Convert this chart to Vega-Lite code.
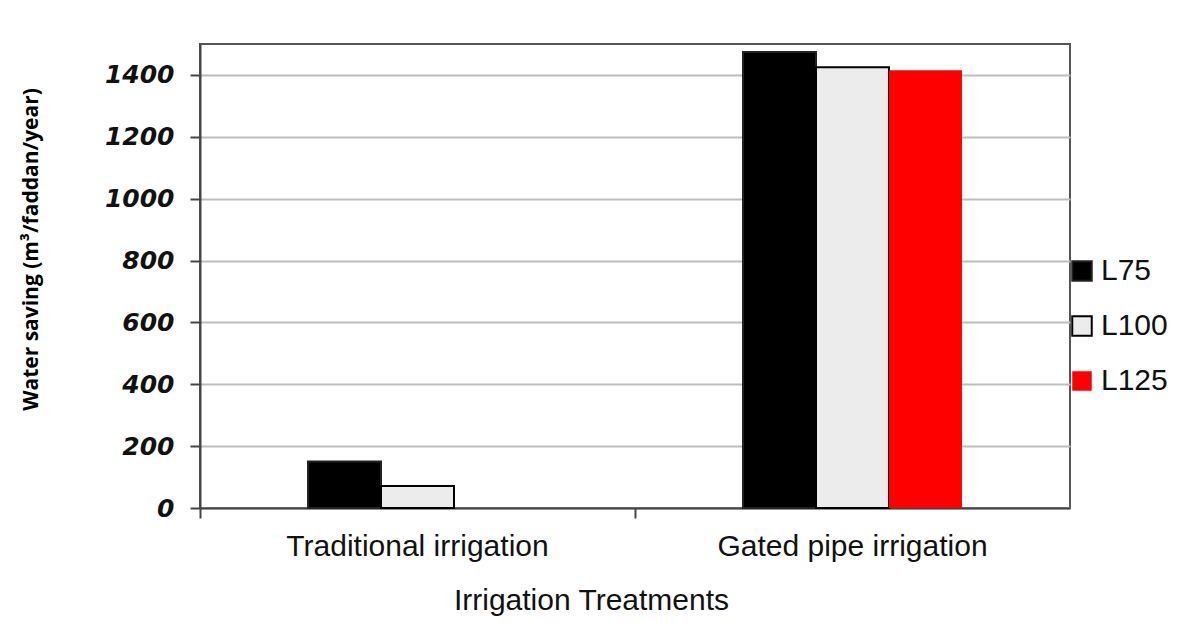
{
  "$schema": "https://vega.github.io/schema/vega-lite/v6.json",
  "width": 870,
  "height": 464,
  "autosize": {"type": "none"},
  "padding": {"left": 200, "top": 44, "right": 120, "bottom": 125},
  "background": "white",
  "config": {
    "view": {"stroke": "#555555", "strokeWidth": 2},
    "font": "Liberation Sans"
  },
  "data": {
    "values": [
      {"treatment": "Traditional irrigation", "level": "L75", "saving": 150},
      {"treatment": "Traditional irrigation", "level": "L100", "saving": 71},
      {"treatment": "Traditional irrigation", "level": "L125", "saving": 0},
      {"treatment": "Gated pipe irrigation", "level": "L75", "saving": 1474},
      {"treatment": "Gated pipe irrigation", "level": "L100", "saving": 1425},
      {"treatment": "Gated pipe irrigation", "level": "L125", "saving": 1415}
    ]
  },
  "mark": {"type": "bar", "strokeWidth": 2},
  "encoding": {
    "x": {
      "field": "treatment",
      "type": "nominal",
      "sort": ["Traditional irrigation", "Gated pipe irrigation"],
      "scale": {"paddingInner": 0, "paddingOuter": 0},
      "axis": {
        "title": "Irrigation Treatments",
        "labelAngle": 0,
        "labelLimit": 0,
        "bandPosition": 0,
        "tickSize": 10,
        "tickColor": "#444444",
        "tickWidth": 2,
        "domainColor": "#444444",
        "domainWidth": 2,
        "labelPadding": 13,
        "labelFont": "Liberation Sans Narrow, Arial Narrow, Liberation Sans",
        "labelFontSize": 30,
        "labelColor": "#111111",
        "titleFont": "Liberation Sans Narrow, Arial Narrow, Liberation Sans",
        "titleFontSize": 30,
        "titleFontWeight": "normal",
        "titleColor": "#111111",
        "titlePadding": 24,
        "titleX": 391,
        "titleAlign": "center"
      }
    },
    "xOffset": {
      "field": "level",
      "type": "nominal",
      "scale": {"domain": ["pad_a", "L75", "L100", "L125", "pad_b"], "paddingInner": 0, "paddingOuter": 0.48}
    },
    "y": {
      "field": "saving",
      "type": "quantitative",
      "scale": {"domain": [0, 1500], "nice": false},
      "axis": {
        "title": "Water saving  (m³/faddan/year)",
        "values": [0, 200, 400, 600, 800, 1000, 1200, 1400],
        "format": "d",
        "tickSize": 10,
        "tickColor": "#444444",
        "tickWidth": 2,
        "domainColor": "#444444",
        "domainWidth": 2,
        "gridColor": "#bdbdbd",
        "gridWidth": 2,
        "labelFont": "DejaVu Sans",
        "labelFontSize": 25,
        "labelFontStyle": "italic",
        "labelFontWeight": "bold",
        "labelColor": "#111111",
        "labelPadding": 16,
        "titleFont": "Open Sans",
        "titleFontSize": 21,
        "titleFontWeight": "bold",
        "titleColor": "#000000",
        "titleAngle": -90,
        "titleAlign": "center",
        "titleBaseline": "middle",
        "titleX": -169,
        "titleY": 205
      }
    },
    "fill": {
      "field": "level",
      "type": "nominal",
      "sort": ["L75", "L100", "L125"],
      "scale": {"domain": ["L75", "L100", "L125"], "range": ["#000000", "#ececec", "#ff0000"]},
      "legend": {
        "title": null,
        "orient": "none",
        "legendX": 867,
        "legendY": 212,
        "symbolType": "square",
        "symbolSize": 380,
        "symbolStrokeWidth": 2,
        "labelFontSize": 30,
        "labelFont": "Liberation Sans",
        "labelColor": "#111111",
        "labelOffset": 4,
        "rowPadding": 25,
        "padding": 0
      }
    },
    "stroke": {
      "field": "level",
      "type": "nominal",
      "sort": ["L75", "L100", "L125"],
      "scale": {"domain": ["L75", "L100", "L125"], "range": ["#222222", "#000000", "transparent"]},
      "legend": null
    }
  }
}
